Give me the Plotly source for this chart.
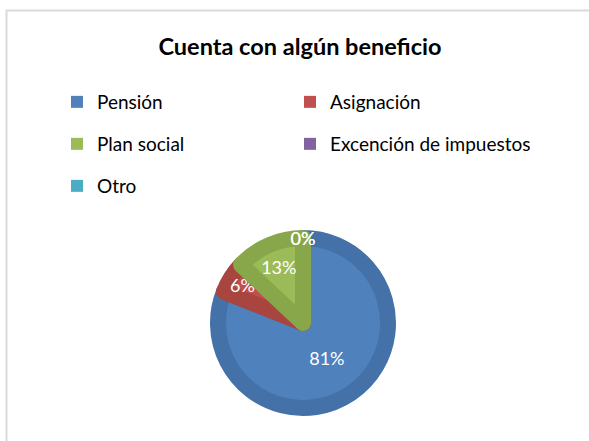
import plotly.graph_objects as go

categories = ["Pensión", "Asignación", "Plan social", "Excención de impuestos", "Otro"]
values = [81, 6, 13, 0, 0]
colors = ["#4F81BD", "#C0504D", "#9BBB59", "#8064A2", "#4BACC6"]
edge_colors = ["#4471A8", "#A9453F", "#88A74B", "#6F5690", "#3E97AE"]
title_text = "Cuenta con algún beneficio"

W, H = 589, 441
FONT = "Lato, 'Open Sans', sans-serif"

fig = go.Figure()

# pie
cx, cy, R = 303, 323, 85
fig.add_trace(go.Pie(
    labels=categories, values=values, sort=False, direction="clockwise", rotation=0,
    marker=dict(colors=colors,
                line=dict(color=edge_colors, width=[16 if v > 0 else 0 for v in values])),
    texttemplate="%{percent:.0%}", textposition="inside",
    insidetextorientation="horizontal",
    textfont=dict(color="white", size=18, family=FONT),
    showlegend=False, hoverinfo="label+percent",
    domain=dict(x=[(cx - R) / W, (cx + R) / W], y=[(H - cy - R) / H, (H - cy + R) / H]),
))

# legend entries: two columns, three rows, one legend box per entry
col_x = [57, 290]
row_y = [102, 144, 186]
legend_layout = {}
for i, (name, col) in enumerate(zip(categories, colors)):
    lid = "legend" if i == 0 else f"legend{i + 1}"
    fig.add_trace(go.Scatter(
        x=[None], y=[None], mode="markers", name=name,
        marker=dict(symbol="square", size=12, color=col),
        legend=lid, showlegend=True,
    ))
    legend_layout[lid] = dict(
        orientation="h", xanchor="left", yanchor="middle",
        x=col_x[i % 2] / W, y=1 - row_y[i // 2] / H,
        font=dict(family=FONT, size=19, color="#000000"),
        bgcolor="rgba(0,0,0,0)", itemclick=False, itemdoubleclick=False)

fig.update_layout(
    width=W, height=H,
    margin=dict(l=0, r=0, t=0, b=0),
    paper_bgcolor="white", plot_bgcolor="white",
    title=dict(text=f"<b>{title_text}</b>", x=300 / W, xanchor="center", y=1 - 47 / H,
               yanchor="middle", font=dict(family=FONT, size=23.5, color="#000000")),
    xaxis=dict(visible=False), yaxis=dict(visible=False),
    uniformtext=dict(minsize=18, mode="show"),
    shapes=[dict(type="rect", xref="paper", yref="paper",
                 x0=6.5 / W, x1=1.05, y0=-0.05, y1=1 - 10.5 / H,
                 line=dict(color="#D9D9D9", width=2), fillcolor="rgba(0,0,0,0)", layer="below")],
    **legend_layout,
)

fig.write_html("out.html", config={"displayModeBar": False},
               post_script="document.body.style.margin='0';")
